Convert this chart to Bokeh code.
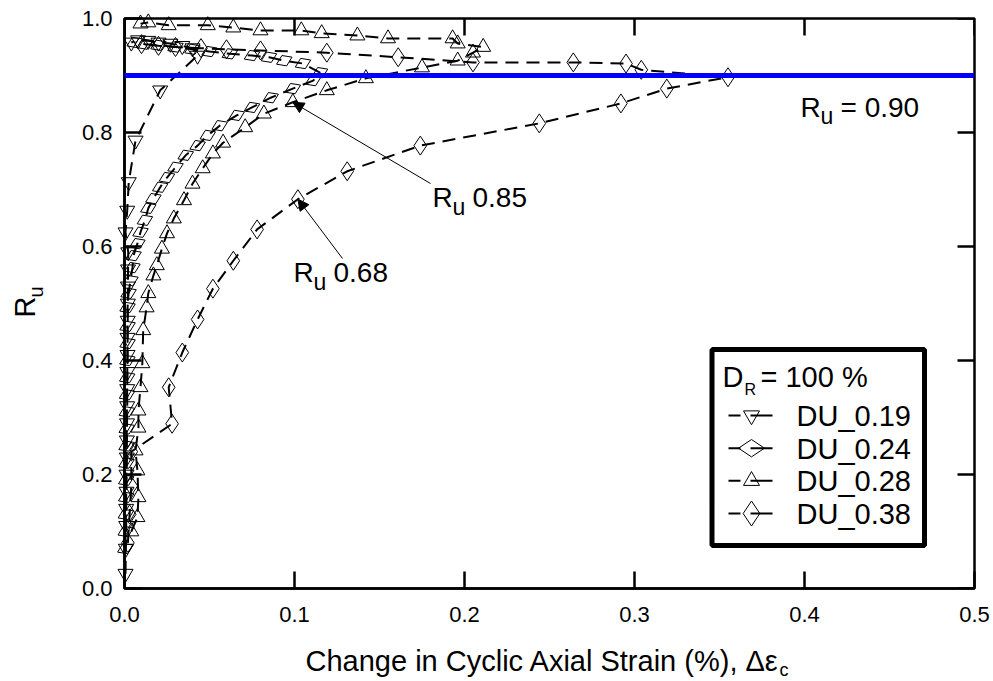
import math
from bokeh.plotting import figure
from bokeh.models import (Label, Arrow, NormalHead, Span, BoxAnnotation,
                          FixedTicker, NumeralTickFormatter, Range1d)
from bokeh.embed import file_html
from bokeh.resources import INLINE

# ---------------- data ----------------
du019_x = [0.0006, 0.0008, 0.0010, 0.0010, 0.0012, 0.0012, 0.0014, 0.0014, 0.0015, 0.0016,
           0.0016, 0.0017, 0.0018, 0.0018, 0.0019, 0.0020, 0.0020, 0.0021, 0.0022, 0.0006,
           0.0016, 0.0025, 0.0065, 0.021, 0.043, 0.040, 0.034, 0.027, 0.020, 0.014,
           0.008, 0.004]
du019_y = [0.026, 0.07, 0.11, 0.14, 0.17, 0.20, 0.23, 0.26, 0.29, 0.32,
           0.35, 0.38, 0.41, 0.44, 0.47, 0.50, 0.53, 0.56, 0.59, 0.625,
           0.663, 0.713, 0.786, 0.874, 0.935, 0.948, 0.952, 0.956, 0.958, 0.961,
           0.962, 0.958]

du024_x = [0.0005, 0.0007, 0.0008, 0.0010, 0.0010, 0.0012, 0.0012, 0.0013, 0.0014, 0.0015,
           0.0016, 0.0017, 0.0018, 0.0018, 0.0018, 0.0024, 0.0035, 0.0047, 0.0053, 0.0076,
           0.0094, 0.012, 0.014, 0.017, 0.021, 0.025, 0.030, 0.036, 0.043, 0.049,
           0.056, 0.066, 0.075, 0.086, 0.099, 0.111, 0.115, 0.105, 0.094, 0.085,
           0.075, 0.062, 0.050, 0.040, 0.030, 0.020, 0.012, 0.006]
du024_y = [0.07, 0.10, 0.13, 0.16, 0.19, 0.22, 0.25, 0.28, 0.31, 0.34,
           0.37, 0.40, 0.43, 0.46, 0.493, 0.518, 0.54, 0.563, 0.584, 0.605,
           0.625, 0.646, 0.667, 0.684, 0.704, 0.721, 0.739, 0.76, 0.777, 0.795,
           0.812, 0.83, 0.844, 0.861, 0.877, 0.891, 0.905, 0.921, 0.926, 0.932,
           0.935, 0.938, 0.942, 0.946, 0.950, 0.953, 0.955, 0.958]

du028_x = [0.004, 0.0076, 0.0082, 0.0076, 0.0065, 0.0082, 0.0082, 0.0094, 0.0105, 0.011,
           0.013, 0.014, 0.017, 0.019, 0.022, 0.025, 0.029, 0.035, 0.040, 0.046,
           0.052, 0.058, 0.071, 0.082, 0.099, 0.119, 0.142, 0.175, 0.196, 0.205,
           0.211, 0.196, 0.193, 0.155, 0.137, 0.116, 0.104, 0.080, 0.064, 0.049,
           0.026, 0.014, 0.0094]
du028_y = [0.10, 0.125, 0.16, 0.207, 0.242, 0.282, 0.312, 0.353, 0.395, 0.453,
           0.493, 0.518, 0.549, 0.567, 0.596, 0.623, 0.649, 0.681, 0.71, 0.737,
           0.763, 0.782, 0.809, 0.833, 0.853, 0.874, 0.895, 0.914, 0.926, 0.94,
           0.95, 0.956, 0.965, 0.965, 0.97, 0.974, 0.979, 0.979, 0.984, 0.988,
           0.988, 0.993, 0.991]

du038_x = [0.002, 0.003, 0.004, 0.004, 0.028, 0.026, 0.034, 0.043, 0.052, 0.064,
           0.078, 0.102, 0.131, 0.174, 0.244, 0.292, 0.319, 0.355, 0.304, 0.295,
           0.264, 0.205, 0.161, 0.119, 0.080, 0.060, 0.045, 0.030, 0.020, 0.010]
du038_y = [0.08, 0.13, 0.18, 0.24, 0.289, 0.353, 0.414, 0.472, 0.526, 0.575,
           0.630, 0.683, 0.732, 0.777, 0.816, 0.851, 0.877, 0.897, 0.910, 0.921,
           0.923, 0.923, 0.932, 0.940, 0.944, 0.946, 0.948, 0.950, 0.952, 0.955]

series_names = ["DU_0.19", "DU_0.24", "DU_0.28", "DU_0.38"]
ru_limit = 0.90
ru_marked = [0.85, 0.68]
x_ticks = [0.0, 0.1, 0.2, 0.3, 0.4, 0.5]
y_ticks = [0.0, 0.2, 0.4, 0.6, 0.8, 1.0]
legend_title = "100 %"

# ---------------- layout ----------------
W, H = 993, 681
BL, BR, BT, BB = 124, 19, 18, 93
X0, X1, Y0, Y1 = 0.0, 0.5, 0.0, 1.0
FW, FH = W - BL - BR, H - BT - BB
FONT = "Liberation Sans"
TICK = 17          # px, inward
BASE_SHIFT = 0.36  # em: measured offset of the rendered baseline


def sx(px):
    return X0 + (px - BL) / FW * (X1 - X0)


def sy(py):
    return Y0 + (H - BB - py) / FH * (Y1 - Y0)


p = figure(width=W, height=H, x_range=Range1d(X0, X1), y_range=Range1d(Y0, Y1),
           output_backend="svg", toolbar_location=None,
           min_border_left=BL, min_border_right=BR, min_border_top=BT, min_border_bottom=BB)
p.background_fill_color = "white"
p.border_fill_color = "white"
p.grid.visible = False
p.outline_line_color = "black"
p.outline_line_width = 2.5

p.xaxis.ticker = FixedTicker(ticks=x_ticks)
p.yaxis.ticker = FixedTicker(ticks=y_ticks)
for ax in p.axis:
    ax.formatter = NumeralTickFormatter(format="0.0")
    ax.axis_line_color = "black"
    ax.axis_line_width = 2.5
    ax.major_tick_line_color = "black"
    ax.major_tick_line_width = 2.5
    ax.major_tick_in = TICK
    ax.major_tick_out = 0
    ax.minor_tick_line_color = None
    ax.major_label_text_font = FONT
    ax.major_label_text_font_size = "22px"
    ax.major_label_text_color = "black"
    ax.axis_label = None
p.xaxis.major_label_standoff = 18
p.yaxis.major_label_standoff = 12

# mirror ticks on the top and right edges (same tick values)
dx_t = TICK / FW * (X1 - X0)
dy_t = TICK / FH * (Y1 - Y0)
p.segment(x0=x_ticks, y0=[Y1] * len(x_ticks), x1=x_ticks, y1=[Y1 - dy_t] * len(x_ticks),
          line_color="black", line_width=2.5)
p.segment(x0=[X1] * len(y_ticks), y0=y_ticks, x1=[X1 - dx_t] * len(y_ticks), y1=y_ticks,
          line_color="black", line_width=2.5)

# ---------------- data series ----------------
dash = "13 8"
styles = [
    (du019_x, du019_y, "inverted_triangle", 15, 0.0),
    (du024_x, du024_y, "diamond", 17, 2.0),
    (du028_x, du028_y, "triangle", 15, 0.0),
    (du038_x, du038_y, "diamond", 19, 0.0),
]
for xs, ys, mk, sz, ang in styles:
    p.line(xs, ys, line_color="black", line_width=2, line_dash=dash)
for xs, ys, mk, sz, ang in styles:
    r = p.scatter(xs, ys, marker=mk, size=sz, angle=ang, fill_color=None,
                  line_color="black", line_width=1)
    r.level = "guide"

p.add_layout(Span(location=ru_limit, dimension="width", line_color="#0000ff", line_width=5))


# ---------------- texts ----------------
def txt(px, py, s, size, place="center", vertical=False):
    """px, py: left end of the text baseline, in canvas pixels."""
    if vertical:
        ax_, ay_, ang = px - BASE_SHIFT * size, py, math.pi / 2
    else:
        ax_, ay_, ang = px, py - BASE_SHIFT * size, 0.0
    lab = Label(x=sx(ax_), y=sy(ay_), text=s, angle=ang, text_font=FONT,
                text_font_size=f"{size}px", text_color="black",
                text_baseline="alphabetic", text_align="left")
    if place == "center":
        p.add_layout(lab)
    else:
        p.add_layout(lab, place)


# Ru = 0.90
txt(800, 117, "R", 28)
txt(820, 124, "u", 23)
txt(840, 117, "= %.2f" % ru_limit, 28)
# Ru 0.85
txt(432, 207, "R", 28)
txt(452, 215, "u", 23)
txt(472, 207, "%.2f" % ru_marked[0], 28)
# Ru 0.68
txt(293, 282, "R", 28)
txt(313, 290, "u", 23)
txt(333, 282, "%.2f" % ru_marked[1], 28)

head = dict(size=11, fill_color="black", line_color="black", line_width=1)
p.add_layout(Arrow(end=NormalHead(**head), x_start=sx(430), y_start=sy(183),
                   x_end=du028_x[24], y_end=du028_y[24], line_width=1, line_color="black"))
p.add_layout(Arrow(end=NormalHead(**head), x_start=sx(342), y_start=sy(258),
                   x_end=du038_x[11], y_end=du038_y[11], line_width=1, line_color="black"))

# axis titles: placed in side panels so that they are not clipped to the frame
txt(305, 671, "Change in Cyclic Axial Strain (%), \u0394\u03b5", 29, place="below")
txt(35, 317, "R", 29, place="left", vertical=True)
txt(43, 297, "u", 20, place="left", vertical=True)
txt(779, 676, "c", 18, place="left")

# ---------------- legend ----------------
p.add_layout(BoxAnnotation(left=sx(711.5), right=sx(924), top=sy(349), bottom=sy(545),
                           fill_color="white", fill_alpha=1, line_color="black",
                           line_alpha=1, line_width=5, level="underlay"))
txt(722, 387, "D", 29)
txt(744, 395, "R", 16)
txt(760, 387, "= " + legend_title, 29)
row_base = [426, 458.7, 491.3, 524]
leg_mk = [("inverted_triangle", 16, 0.0), ("diamond", 26, math.pi / 2),
          ("triangle", 16, 0.0), ("diamond", 25, 0.0)]
for i, name in enumerate(series_names):
    gy = sy(row_base[i] - 11)
    p.segment(x0=[sx(728)], y0=[gy], x1=[sx(772)], y1=[gy], line_color="black",
              line_width=2, line_dash="12 10 30")
    mk, sz, ang = leg_mk[i]
    r = p.scatter([sx(751)], [gy], marker=mk, size=sz, angle=ang, fill_color=None,
                  line_color="black", line_width=1)
    r.level = "guide"
    txt(796, row_base[i], name, 29)

open("out.html", "w").write(file_html(p, INLINE))
